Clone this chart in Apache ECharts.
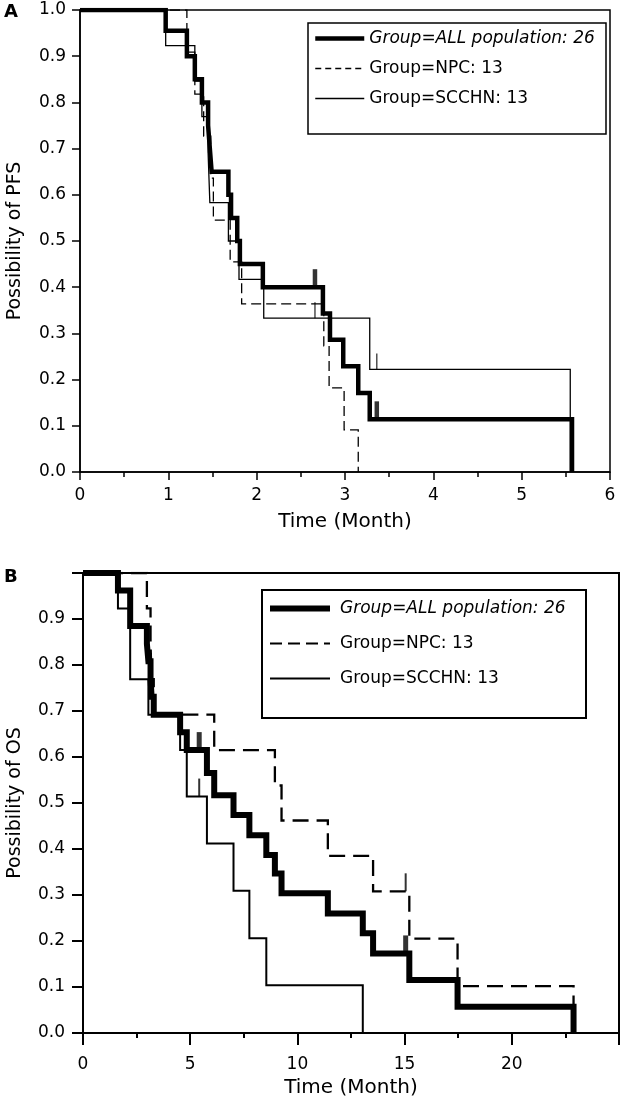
<!DOCTYPE html>
<html>
<head>
<meta charset="utf-8">
<script src="https://cdn.jsdelivr.net/npm/echarts@6.0.0/dist/echarts.min.js"></script>
<style>
html,body{margin:0;padding:0;background:#fff;}
#chart{width:622px;height:1103px;}
</style>
</head>
<body>
<div id="chart"></div>
<script>
// ---------- Panel A: PFS ----------
const pfsAllT   = [0, 0.97, 1.21, 1.30, 1.38, 1.45, 1.47, 1.49, 1.68, 1.71, 1.78, 1.81, 2.07, 2.75, 2.83, 2.98, 3.15, 3.28, 5.57];
const pfsAllS   = [1, 0.955, 0.90, 0.85, 0.80, 0.75, 0.70, 0.65, 0.60, 0.55, 0.50, 0.45, 0.40, 0.343, 0.286, 0.229, 0.171, 0.114, 0];
const pfsNpcT   = [0, 1.21, 1.30, 1.40, 1.48, 1.51, 1.70, 1.83, 2.76, 2.82, 2.99, 3.15];
const pfsNpcS   = [1, 0.909, 0.818, 0.727, 0.636, 0.545, 0.455, 0.364, 0.273, 0.182, 0.091, 0];
const pfsScchnT = [0, 0.97, 1.30, 1.38, 1.45, 1.47, 1.68, 1.80, 2.08, 3.28, 5.55];
const pfsScchnS = [1, 0.923, 0.846, 0.769, 0.692, 0.583, 0.50, 0.417, 0.333, 0.222, 0];
const pfsAllCensT   = [2.66, 3.36];
const pfsAllCensS   = [0.40, 0.114];
const pfsScchnCensT = [2.66, 3.36];
const pfsScchnCensS = [0.333, 0.222];

// ---------- Panel B: OS ----------
const osAllT   = [0, 1.63, 2.2, 2.98, 3.05, 3.15, 3.2, 3.3, 4.53, 4.84, 5.78, 6.12, 7.02, 7.76, 8.55, 8.95, 9.26, 11.42, 13.05, 13.53, 15.22, 17.47, 22.88];
const osAllS   = [1, 0.962, 0.885, 0.846, 0.808, 0.769, 0.731, 0.692, 0.654, 0.615, 0.565, 0.517, 0.474, 0.43, 0.387, 0.347, 0.304, 0.26, 0.217, 0.173, 0.115, 0.057, 0];
const osNpcT   = [0, 2.98, 3.15, 3.2, 3.3, 6.12, 8.95, 9.26, 11.42, 13.53, 15.22, 17.47, 22.88];
const osNpcS   = [1, 0.923, 0.846, 0.769, 0.692, 0.615, 0.538, 0.462, 0.385, 0.308, 0.205, 0.102, 0];
const osScchnT = [0, 1.63, 2.2, 3.05, 4.53, 4.84, 5.78, 7.02, 7.76, 8.55, 13.05];
const osScchnS = [1, 0.923, 0.769, 0.692, 0.615, 0.514, 0.412, 0.309, 0.206, 0.104, 0];
const osAllCensT   = [5.42, 15.05];
const osAllCensS   = [0.615, 0.173];
const osNpcCensT   = [15.05];
const osNpcCensS   = [0.308];
const osScchnCensT = [5.42];
const osScchnCensS = [0.514];

// ---------- labels ----------
const nameAll = 'Group=ALL population: 26';
const nameNpc = 'Group=NPC: 13';
const nameScchn = 'Group=SCCHN: 13';
const pfsXTicks = [0, 1, 2, 3, 4, 5, 6];
const osXTicks = [0, 5, 10, 15, 20];

const FONT = 'DejaVu Sans';
const zip = (T, S) => T.map((t, i) => [t, S[i]]);

function km(name, T, S, idx, width, type, z) {
  return {
    type: 'line', name: name, xAxisIndex: idx, yAxisIndex: idx,
    step: 'end', symbol: 'none', showSymbol: false,
    data: zip(T, S), z: z, silent: true, animation: false,
    lineStyle: { color: '#000', width: width, type: type, cap: 'butt', join: 'miter' },
    itemStyle: { color: '#000' }
  };
}
function cens(name, T, S, idx, w, h, z) {
  return {
    type: 'scatter', name: name, xAxisIndex: idx, yAxisIndex: idx,
    data: zip(T, S), symbol: 'rect', symbolSize: [w, h], symbolOffset: [0, '-50%'],
    itemStyle: { color: '#000' }, z: z, silent: true, animation: false
  };
}

function xAxis(idx, max, interval, ticks, lineW, tickLen, margin, nameGap) {
  return {
    type: 'value', gridIndex: idx, min: 0, max: max, interval: interval,
    name: 'Time (Month)', nameLocation: 'middle', nameGap: nameGap,
    nameTextStyle: { fontFamily: FONT, fontSize: 20, color: '#000' },
    axisLine: { show: true, onZero: false, lineStyle: { color: '#000', width: lineW } },
    axisTick: { show: true, length: tickLen, lineStyle: { color: '#000', width: lineW } },
    minorTick: { show: true, splitNumber: 2, length: 5, lineStyle: { color: '#000', width: lineW } },
    splitLine: { show: false },
    axisLabel: { fontFamily: FONT, fontSize: 17, color: '#000', margin: margin,
      formatter: v => ticks.indexOf(v) >= 0 ? String(v) : '' }
  };
}
function yAxis(idx, name, lineW, tickLen, margin, nameGap, showTop) {
  return {
    type: 'value', gridIndex: idx, min: 0, max: 1, interval: 0.1,
    name: name, nameLocation: 'middle', nameGap: nameGap,
    nameTextStyle: { fontFamily: FONT, fontSize: 19, color: '#000' },
    axisLine: { show: true, onZero: false, lineStyle: { color: '#000', width: lineW } },
    axisTick: { show: true, length: tickLen, lineStyle: { color: '#000', width: lineW } },
    splitLine: { show: false },
    axisLabel: { fontFamily: FONT, fontSize: 17, color: '#000', margin: margin,
      formatter: v => (!showTop && v > 0.95) ? '' : v.toFixed(1) }
  };
}

function legend(top, left, widths, types, gap, iw, textPad) {
  const names = [nameAll, nameNpc, nameScchn];
  return {
    orient: 'vertical', left: left, top: top, padding: 0,
    itemWidth: iw, itemHeight: 14, itemGap: gap,
    selectedMode: false,
    textStyle: { fontFamily: FONT, fontSize: 17, color: '#000', padding: [0, 0, 0, textPad] },
    data: names.map((n, i) => ({
      name: n,
      itemStyle: { opacity: 0, borderWidth: 0 },
      lineStyle: { width: widths[i], type: types[i], color: '#000', opacity: 1 },
      textStyle: i === 0 ? { fontStyle: 'italic' } : {}
    }))
  };
}

const option = {
  backgroundColor: '#fff',
  animation: false,
  grid: [
    { left: 80, top: 10, width: 530, height: 462, show: true, borderColor: '#000', borderWidth: 1.5, backgroundColor: 'transparent', containLabel: false, outerBoundsMode: 'none' },
    { left: 83, top: 573, width: 536, height: 460, show: true, borderColor: '#000', borderWidth: 2, backgroundColor: 'transparent', containLabel: false, outerBoundsMode: 'none' }
  ],
  xAxis: [
    xAxis(0, 6, 1, pfsXTicks, 1.5, 8, 15, 40),
    xAxis(1, 25, 5, osXTicks, 2, 12, 23, 45)
  ],
  yAxis: [
    yAxis(0, 'Possibility of PFS', 1.5, 8, 14, 55, true),
    yAxis(1, 'Possibility of OS', 2, 11, 18, 58, false)
  ],
  legend: [
    legend(30, 313, [4.5, 1.3, 1.3], ['solid', [6, 4], 'solid'], 13, 49, 0),
    legend(600, 267, [6, 2, 2], ['solid', [12, 6], 'solid'], 18, 60, 5)
  ],
  graphic: [
    { type: 'rect', shape: { x: 308, y: 23, width: 298, height: 111 }, style: { fill: 'none', stroke: '#000', lineWidth: 1.5 }, z: 10 },
    { type: 'rect', shape: { x: 262, y: 590, width: 324, height: 128 }, style: { fill: 'none', stroke: '#000', lineWidth: 2 }, z: 10 },
    { type: 'text', left: 4, top: 3, style: { text: 'A', fontFamily: FONT, fontSize: 18, fontWeight: 'bold', fill: '#000' } },
    { type: 'text', left: 4, top: 568, style: { text: 'B', fontFamily: FONT, fontSize: 18, fontWeight: 'bold', fill: '#000' } }
  ],
  series: [
    km(nameNpc, pfsNpcT, pfsNpcS, 0, 1.3, [10, 5], 3),
    km(nameScchn, pfsScchnT, pfsScchnS, 0, 1.3, 'solid', 3),
    km(nameAll, pfsAllT, pfsAllS, 0, 4.5, 'solid', 4),
    cens('pfs-all-cens', pfsAllCensT, pfsAllCensS, 0, 4.5, 18, 5),
    cens('pfs-scchn-cens', pfsScchnCensT, pfsScchnCensS, 0, 1.3, 16, 5),

    km(nameNpc, osNpcT, osNpcS, 1, 2.3, [16, 8], 3),
    km(nameScchn, osScchnT, osScchnS, 1, 2, 'solid', 3),
    km(nameAll, osAllT, osAllS, 1, 6, 'solid', 4),
    cens('os-all-cens', osAllCensT, osAllCensS, 1, 5, 18, 5),
    cens('os-npc-cens', osNpcCensT, osNpcCensS, 1, 2, 18, 5),
    cens('os-scchn-cens', osScchnCensT, osScchnCensS, 1, 2, 18, 5)
  ]
};

const chart = echarts.init(document.getElementById('chart'), null, { renderer: 'canvas' });
chart.setOption(option);
</script>
</body>
</html>
